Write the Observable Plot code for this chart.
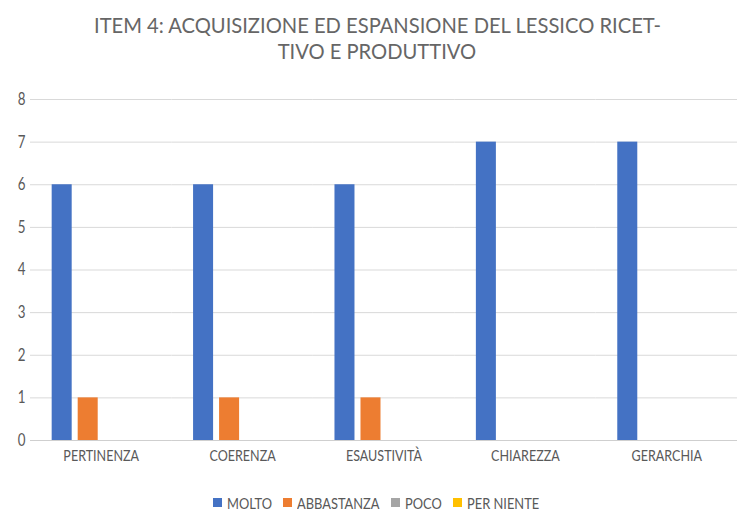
<!DOCTYPE html>
<html>
<head>
<meta charset="utf-8">
<script src="https://cdn.jsdelivr.net/npm/d3@7"></script>
<script src="https://cdn.jsdelivr.net/npm/@observablehq/plot@0.6"></script>
<style>
  body { margin: 0; background: white; }
  #title { box-sizing: border-box; width: 740px; height: 78px; padding-top: 12px; padding-left: 14px; text-align: center;
           font-family: Lato, "Open Sans", sans-serif; font-size: 21.5px; color: #666; white-space: nowrap; }
  #title .line { height: 26px; line-height: 26px; }
  #title .line span { display: inline-block; transform-origin: 50% 50%; }
  #legend { box-sizing: border-box; width: 740px; height: 41px; padding-top: 22px; padding-left: 13px; display: flex; justify-content: center; align-items: flex-start;
            font-family: Lato, "Open Sans", sans-serif; font-size: 16px; color: #595959; white-space: nowrap; }
  #legend .item { display: flex; align-items: center; height: 20px; margin: 0 5.5px; }
  #legend .sw { width: 9px; height: 9px; margin-right: 5px; flex: none; }
  #legend .lab { display: inline-block; overflow: visible; }
  #legend .lab span { display: inline-block; transform-origin: 0 50%; }
</style>
</head>
<body>
<div id="title"></div>
<div id="chart"></div>
<div id="legend"></div>
<script>
const titleLines = ["ITEM 4: ACQUISIZIONE ED ESPANSIONE DEL LESSICO RICET-", "TIVO E PRODUTTIVO"];
const categories = ["PERTINENZA", "COERENZA", "ESAUSTIVITÀ", "CHIAREZZA", "GERARCHIA"];
const series = ["MOLTO", "ABBASTANZA", "POCO", "PER NIENTE"];
const molto = [6, 6, 6, 7, 7];
const abbastanza = [1, 1, 1, 0, 0];
const poco = [0, 0, 0, 0, 0];
const perNiente = [0, 0, 0, 0, 0];
const colors = ["#4472C4", "#ED7D31", "#A5A5A5", "#FFC000"];
const yTicks = [0, 1, 2, 3, 4, 5, 6, 7, 8];

const values = [molto, abbastanza, poco, perNiente];
const data = [];
categories.forEach((c, i) => series.forEach((s, j) => data.push({cat: c, series: s, value: values[j][i]})));

// Title (condensed horizontally to mimic the narrow original font)
const title = document.getElementById("title");
const titleSpans = titleLines.map(t => {
  const d = document.createElement("div");
  d.className = "line";
  const s = document.createElement("span");
  s.textContent = t;
  d.appendChild(s);
  title.appendChild(d);
  return s;
});
const titleScale = 567 / titleSpans[0].offsetWidth;
titleSpans.forEach(s => s.style.transform = `scale(${titleScale}, 1)`);

const chart = Plot.plot({
  width: 740,
  height: 392,
  marginTop: 21,
  marginBottom: 30,
  marginLeft: 30,
  marginRight: 3,
  style: {fontFamily: "Lato, 'Open Sans', sans-serif", color: "#595959", background: "white"},
  fx: {domain: categories, padding: 0, round: false, label: null},
  x: {domain: series, paddingInner: 0.2308, paddingOuter: 0.833, round: false, axis: null},
  y: {domain: [0, 8], label: null},
  color: {domain: series, range: colors},
  marks: [
    Plot.gridY(yTicks, {stroke: "#d9d9d9", strokeOpacity: 1}),
    Plot.axisY(yTicks, {tickSize: 0, tickPadding: 5, fontSize: 17, label: null}),
    Plot.axisFx({anchor: "bottom", tickSize: 0, tickPadding: 9, fontSize: 16, label: null}),
    Plot.barY(data, {fx: "cat", x: "series", y: "value", fill: "series"}),
    Plot.ruleY([0], {stroke: "#cfcfcf"})
  ]
});
document.getElementById("chart").appendChild(chart);

// Condense axis label text horizontally
const texts = Array.from(chart.querySelectorAll("text"));
let k = 0.82;
const ref = texts.find(t => t.textContent === "PERTINENZA");
if (ref) k = 75.7 / ref.getComputedTextLength();
texts.forEach(t => {
  const w = t.getComputedTextLength();
  t.setAttribute("textLength", w * k);
  t.setAttribute("lengthAdjust", "spacingAndGlyphs");
});

// Legend
const legend = document.getElementById("legend");
const labs = series.map((s, i) => {
  const it = document.createElement("div");
  it.className = "item";
  const sw = document.createElement("div");
  sw.className = "sw";
  sw.style.background = colors[i];
  const lab = document.createElement("span");
  lab.className = "lab";
  const inner = document.createElement("span");
  inner.textContent = s;
  lab.appendChild(inner);
  it.appendChild(sw);
  it.appendChild(lab);
  legend.appendChild(it);
  return {lab, inner};
});
const legScale = 45 / labs[0].inner.offsetWidth;
labs.forEach(({lab, inner}) => {
  const w = inner.offsetWidth;
  inner.style.transform = `scale(${legScale}, 1)`;
  lab.style.width = (w * legScale) + "px";
});
</script>
</body>
</html>
